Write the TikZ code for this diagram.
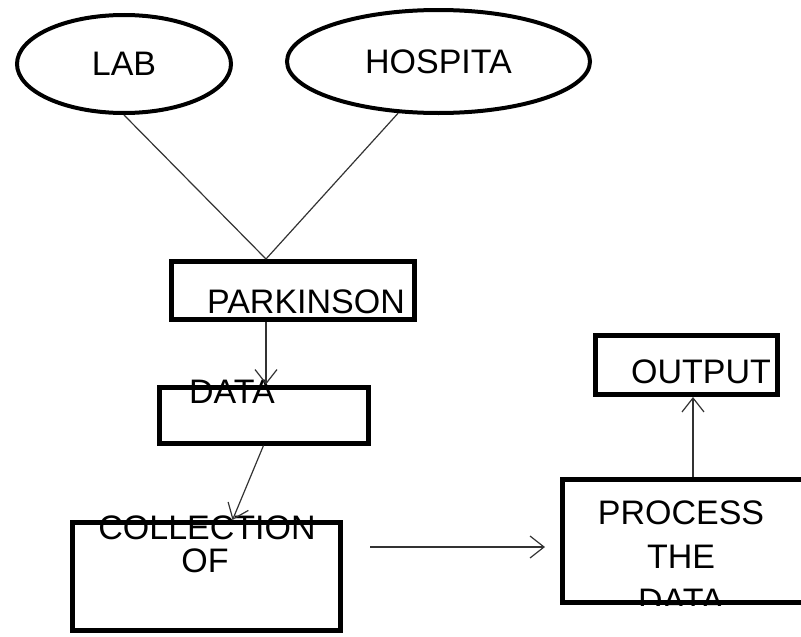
\documentclass[tikz,border=0pt]{standalone}
\usepackage{fontspec}
\setmainfont{Liberation Sans}
\usetikzlibrary{shapes.geometric,arrows.meta}

\begin{document}
\begin{tikzpicture}[x=1pt, y=-1pt,
	font=\fontsize{34}{44}\selectfont,
	oval/.style={draw, ellipse, line width=4pt, inner sep=0pt},
	box/.style={draw, rectangle, line width=5pt, inner sep=0pt},
	link/.style={draw=black!80, line width=1.2pt},
	flow/.style={link, -{Straight Barb[length=14pt, width=22pt]}}]
	\useasboundingbox (0,0) rectangle (801,637);

	\node [oval, minimum width=214pt, minimum height=98pt] (lab) at (124,64) {LAB};
	\node [oval, minimum width=303pt, minimum height=103pt] (hosp) at (438.5,61.5) {HOSPITA};

	\node [box, minimum width=243pt, minimum height=58pt] (park) at (293,290.5) {};
	\node [box, minimum width=209pt, minimum height=56pt] (data) at (263.5,415) {};
	\node [box, minimum width=268pt, minimum height=108pt] (coll) at (206.5,576.5) {};
	\node [box, minimum width=243pt, minimum height=123pt] (proc) at (684,541) {};
	\node [box, minimum width=182pt, minimum height=59pt] (out) at (686.5,365) {};

	\node (parktxt) at (306,302) {PARKINSON};
	\node (datatxt) at (232,392) {DATA};
	\node (colltxt) at (207,528) {COLLECTION};
	\node (oftxt) at (205,561) {OF};
	\node (outtxt) at (701,372) {OUTPUT};
	\begin{scope}
		\clip (proc.north west) rectangle (proc.south east);
		\node [align=center] (proctxt) at (681,557) {PROCESS\\THE\\DATA};
	\end{scope}

	\coordinate (meet) at ([xshift=-27pt]park.north);
	\draw [link] (lab.south) -- (meet);
	\draw [link] (hosp.232) -- (meet);
	\draw [flow] (park.south -| meet) -- (data.north -| meet);
	\draw [flow] (data.south) -- ([xshift=26pt]coll.north);
	\coordinate (hfrom) at (370,547);
	\coordinate (hto) at (545,547);
	\draw [flow] (hfrom) -- (hto);
	\draw [flow] ([xshift=9pt]proc.north) -- ([xshift=9pt]proc.north |- out.south);
\end{tikzpicture}
\end{document}
